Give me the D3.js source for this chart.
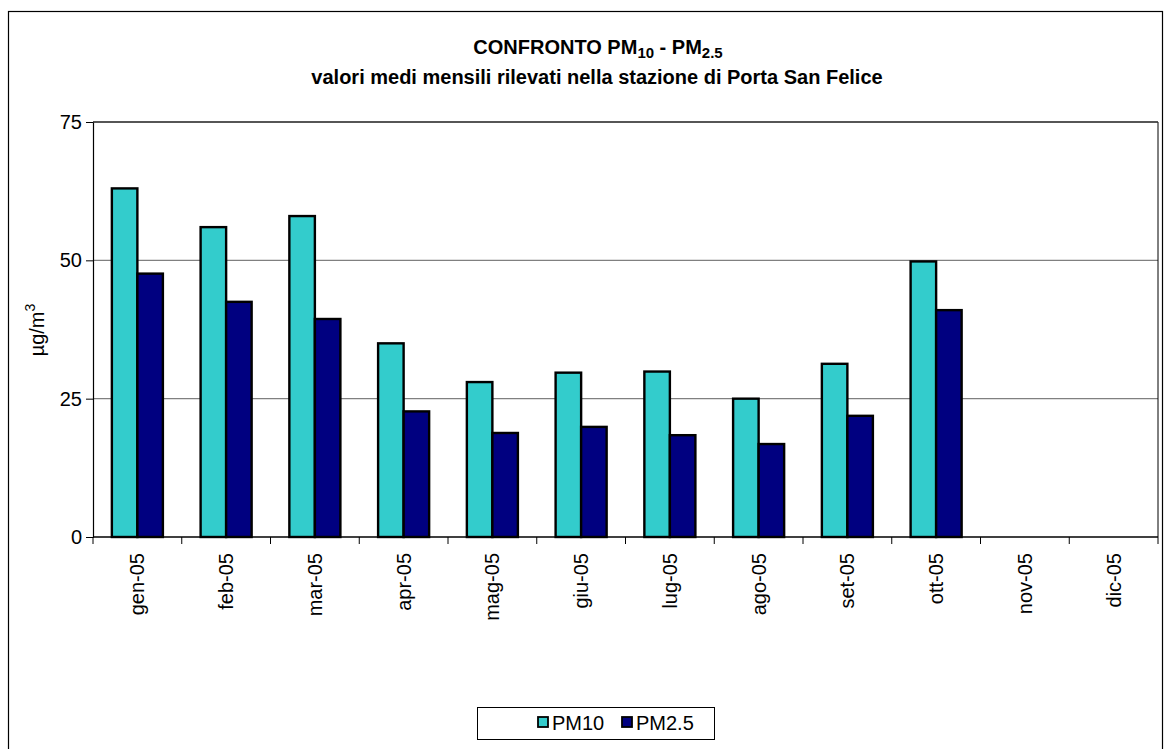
<!DOCTYPE html>
<html>
<head>
<meta charset="utf-8">
<script src="https://cdn.jsdelivr.net/npm/d3@7"></script>
<style>
  body { margin: 0; background: #fff; }
  svg { display: block; font-family: Arial, "Liberation Sans", sans-serif; }
</style>
</head>
<body>
<svg id="chart" width="1171" height="749"></svg>
<script>
// data
const months = ['gen-05', 'feb-05', 'mar-05', 'apr-05', 'mag-05', 'giu-05',
                'lug-05', 'ago-05', 'set-05', 'ott-05', 'nov-05', 'dic-05'];
const pm10 = [63, 56, 58, 35, 28, 29.7, 29.9, 25, 31.3, 49.8, null, null];
const pm25 = [47.6, 42.5, 39.4, 22.7, 18.8, 19.9, 18.4, 16.8, 21.9, 41, null, null];
const seriesNames = ['PM10', 'PM2.5'];
const seriesColors = ['#33CCCC', '#000080'];
const yTicks = [0, 25, 50, 75];

const svg = d3.select('#chart');
const plot = { left: 93, right: 1158, top: 122, bottom: 537 };
const fs = '20px';

// outer chart frame
svg.append('rect')
  .attr('x', 8.5).attr('y', 11.5)
  .attr('width', 1154).attr('height', 760)
  .attr('fill', '#fff').attr('stroke', '#000').attr('stroke-width', 1.2);

// title
const title = svg.append('text')
  .attr('x', 598).attr('y', 54)
  .attr('text-anchor', 'middle')
  .style('font-size', fs).style('font-weight', 'bold');
title.append('tspan').text('CONFRONTO PM');
title.append('tspan').text('10').attr('dy', 4).style('font-size', '15px');
title.append('tspan').text(' - PM').attr('dy', -4);
title.append('tspan').text('2.5').attr('dy', 4).style('font-size', '15px');

svg.append('text')
  .attr('x', 597).attr('y', 84)
  .attr('text-anchor', 'middle')
  .style('font-size', fs).style('font-weight', 'bold')
  .text('valori medi mensili rilevati nella stazione di Porta San Felice');

const x = d3.scaleBand().domain(months).range([plot.left, plot.right]);
const y = d3.scaleLinear().domain([0, 75]).range([plot.bottom, plot.top]);
const groupW = x.bandwidth() * 0.575;
const xs = d3.scaleBand().domain(seriesNames).range([0, groupW]);

// gridlines
svg.append('g').selectAll('line')
  .data(yTicks.filter(d => d > 0))
  .join('line')
  .attr('x1', plot.left).attr('x2', plot.right)
  .attr('y1', d => y(d)).attr('y2', d => y(d))
  .attr('stroke', '#808080').attr('stroke-width', 1.2);

// plot right border
svg.append('line')
  .attr('x1', plot.right).attr('x2', plot.right)
  .attr('y1', plot.top).attr('y2', plot.bottom)
  .attr('stroke', '#000').attr('stroke-width', 1);

// bars
const rows = months.map((m, i) => ({ m, vals: [pm10[i], pm25[i]] }));
svg.append('g').selectAll('g')
  .data(rows)
  .join('g')
  .attr('transform', d => `translate(${x(d.m) + (x.bandwidth() - groupW) / 2},0)`)
  .selectAll('rect')
  .data(d => d.vals.map((v, k) => ({ v, k })).filter(e => e.v != null))
  .join('rect')
  .attr('x', e => xs(seriesNames[e.k]))
  .attr('width', xs.bandwidth())
  .attr('y', e => y(e.v))
  .attr('height', e => y(0) - y(e.v))
  .attr('fill', e => seriesColors[e.k])
  .attr('stroke', '#000').attr('stroke-width', 2.4);

// y axis
const yAxis = svg.append('g')
  .attr('transform', `translate(${plot.left},0)`)
  .call(d3.axisLeft(y).tickValues(yTicks).tickSize(7).tickPadding(4));
yAxis.select('.domain').attr('stroke', '#000').attr('stroke-width', 1.2);
yAxis.selectAll('.tick line').attr('stroke', '#000');
yAxis.selectAll('text').style('font-size', fs).attr('fill', '#000');

// top line of plot area
svg.append('line')
  .attr('x1', plot.left).attr('x2', plot.right)
  .attr('y1', plot.top).attr('y2', plot.top)
  .attr('stroke', '#333').attr('stroke-width', 1.4);

// x axis: ticks at category boundaries
const xAxis = svg.append('g')
  .attr('transform', `translate(0,${plot.bottom})`);
xAxis.append('line')
  .attr('x1', plot.left).attr('x2', plot.right)
  .attr('stroke', '#000').attr('stroke-width', 1.4);
xAxis.selectAll('line.tk')
  .data(months.map(m => x(m)).concat([plot.right]))
  .join('line').attr('class', 'tk')
  .attr('x1', d => d).attr('x2', d => d)
  .attr('y1', 0).attr('y2', 7)
  .attr('stroke', '#000');
xAxis.selectAll('text')
  .data(months)
  .join('text')
  .attr('transform', d => `translate(${x(d) + x.bandwidth() / 2 + 7},16) rotate(-90)`)
  .attr('text-anchor', 'end')
  .style('font-size', fs)
  .text(d => d);

// y axis title
svg.append('text')
  .attr('transform', 'translate(44,330) rotate(-90)')
  .attr('text-anchor', 'middle')
  .style('font-size', fs)
  .call(t => {
    t.append('tspan').text('µg/m');
    t.append('tspan').text('3').attr('dy', -9).style('font-size', '14px');
  });

// legend
const lg = svg.append('g');
lg.append('rect')
  .attr('x', 477.5).attr('y', 707.5).attr('width', 237).attr('height', 32)
  .attr('fill', '#fff').attr('stroke', '#000');
const legX = [538, 622];
seriesNames.forEach((s, i) => {
  lg.append('rect')
    .attr('x', legX[i]).attr('y', 717).attr('width', 10).attr('height', 10)
    .attr('fill', seriesColors[i]).attr('stroke', '#000').attr('stroke-width', 1.8);
  lg.append('text')
    .attr('x', legX[i] + 14).attr('y', 730)
    .style('font-size', fs)
    .text(s);
});
</script>
</body>
</html>
